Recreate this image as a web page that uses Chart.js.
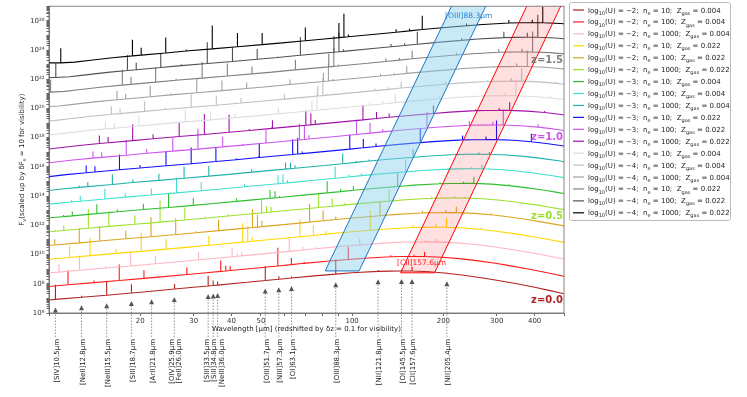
<!DOCTYPE html>
<html>
<head>
<meta charset="utf-8">
<script src="https://cdn.jsdelivr.net/npm/chart.js@4.4.0/dist/chart.umd.min.js"></script>
<style>
html, body { margin: 0; padding: 0; background: #fff; }
canvas { display: block; }
</style>
</head>
<body>
<canvas id="sed-chart" width="747" height="397"></canvas>
<script>
// model parameters, one entry per curve (bottom to top)
const modelLogU = [-2, -2, -2, -2, -2, -2, -3, -3, -3, -3, -3, -3, -4, -4, -4, -4, -4, -4];
const modelNe = [10, 100, 1000, 10, 100, 1000, 10, 100, 1000, 10, 100, 1000, 10, 100, 1000, 10, 100, 1000];
const modelZgas = [0.004, 0.004, 0.004, 0.022, 0.022, 0.022, 0.004, 0.004, 0.004, 0.022, 0.022, 0.022,
                   0.004, 0.004, 0.004, 0.022, 0.022, 0.022];
const modelColors = ['#b22222', '#ff1a1a', '#ffb6c1', '#ffd700', '#daa520', '#9be22d',
                     '#2dbf2d', '#40e0d0', '#20b2aa', '#1010ff', '#cc55ee', '#a010a8',
                     '#dddddd', '#c0c0c0', '#a0a0a0', '#808080', '#505050', '#000000'];
const dz = 0.1;
const dF = 10;

// rest-frame continuum (log10 F, unscaled)
const contRest = [3.5, 4.05, 4.5, 5, 6, 6.98, 7.46, 8.99, 10.5, 12.8, 15.5, 18.7, 21.8, 25.9, 26.0, 30,
                  33.5, 34.8, 36.0, 45, 51.7, 57.3, 63.1, 75, 88.3, 100, 121.8, 145.5, 157.6, 180,
                  205.4, 230, 270, 300, 350, 400, 450, 500];
const contLogF = [6.12, 6.12, 6.17, 6.28, 6.47, 6.60, 6.65, 6.80, 6.93, 7.08, 7.22, 7.37, 7.49, 7.64, 7.64, 7.76,
                  7.85, 7.88, 7.91, 8.10, 8.22, 8.31, 8.40, 8.54, 8.66, 8.75, 8.85, 8.88, 8.87, 8.82,
                  8.72, 8.60, 8.40, 8.24, 8.00, 7.76, 7.53, 7.32];

// emission lines (rest wavelength, um) and their peak height above continuum in dex, per model
const lineRest = [4.05, 6.98, 7.46, 8.99, 10.5, 12.8, 15.5, 18.7, 21.8, 25.9, 26.0, 33.5, 34.8, 36.0,
                  51.7, 57.3, 63.1, 88.3, 121.8, 145.5, 157.6, 205.4];
const lineHeight = [
  [0.3, 0.1, 0.35, 0.9, 1.0, 0.1, 0.9, 0.6, 0.05, 0.35, 0.05, 0.7, 0.35, 0.25, 1.0, 0.2, 0.1, 1.0, 0.1, 0.1, 0.3, 0.05],
  [0.3, 0.1, 0.35, 0.9, 1.0, 0.15, 1.1, 0.55, 0.05, 0.5, 0.05, 0.75, 0.35, 0.3, 1.25, 0.45, 0.1, 0.85, 0.1, 0.1, 0.3, 0.05],
  [0.3, 0.1, 0.35, 0.55, 1.0, 0.15, 1.0, 0.55, 0.05, 0.55, 0.05, 0.6, 0.2, 0.25, 1.0, 0.2, 0.1, 0.45, 0.05, 0.1, 0.2, 0.05],
  [0.3, 0.1, 0.3, 0.8, 1.2, 0.3, 1.25, 0.7, 0.1, 0.65, 0.05, 1.3, 1.1, 0.3, 1.2, 0.7, 0.2, 1.35, 0.15, 0.2, 0.65, 0.15],
  [0.3, 0.1, 0.4, 1.0, 1.0, 0.55, 1.35, 1.1, 0.1, 0.75, 0.05, 1.25, 0.85, 0.4, 1.25, 0.7, 0.2, 0.95, 0.15, 0.15, 0.4, 0.1],
  [0.3, 0.1, 0.35, 1.3, 1.0, 0.6, 1.5, 0.85, 0.1, 0.1, 0.05, 0.9, 0.45, 0.35, 1.0, 0.55, 0.15, 0.8, 0.1, 0.1, 0.1, 0.05],
  [0.3, 0.1, 0.3, 0.65, 0.15, 0.4, 0.95, 0.5, 0.05, 0.2, 0.05, 0.55, 0.45, 0.1, 0.8, 0.2, 0.3, 0.9, 0.1, 0.1, 0.45, 0.1],
  [0.3, 0.12, 0.35, 0.7, 0.25, 0.45, 1.0, 0.6, 0.05, 0.2, 0.05, 0.6, 0.6, 0.2, 0.8, 0.15, 0.15, 0.85, 0.1, 0.1, 0.3, 0.05],
  [0.3, 0.12, 0.3, 0.7, 0.2, 0.45, 0.8, 0.7, 0.05, 0.2, 0.05, 0.45, 0.4, 0.2, 0.7, 0.1, 0.1, 0.55, 0.05, 0.1, 0.15, 0.05],
  [0.4, 0.5, 0.4, 1.05, 0.2, 1.0, 1.1, 0.95, 0.1, 0.1, 0.95, 1.05, 1.1, 0.15, 1.0, 0.6, 0.2, 1.0, 0.3, 0.2, 1.3, 0.55],
  [0.4, 0.45, 0.35, 1.05, 0.3, 0.9, 1.4, 0.7, 0.1, 0.1, 0.9, 1.1, 1.0, 0.25, 1.0, 0.7, 0.2, 1.1, 0.3, 0.2, 1.0, 0.2],
  [0.4, 0.55, 0.4, 1.1, 0.3, 1.0, 1.4, 1.2, 0.1, 0.1, 0.55, 1.0, 0.8, 0.3, 1.0, 0.45, 0.25, 0.55, 0.1, 0.15, 0.55, 0.1],
  [0.5, 0.55, 0.35, 0.7, 0.1, 0.85, 0.6, 0.3, 0.05, 0.05, 0.4, 0.7, 1.25, 0.1, 0.15, 0.2, 0.6, 0.2, 0.1, 0.2, 1.0, 0.15],
  [0.5, 0.55, 0.35, 0.7, 0.1, 0.9, 0.65, 0.35, 0.05, 0.05, 0.35, 0.7, 1.2, 0.1, 0.15, 0.15, 0.45, 0.15, 0.1, 0.2, 0.9, 0.1],
  [0.5, 0.6, 0.35, 0.75, 0.1, 0.95, 0.7, 0.4, 0.05, 0.05, 0.35, 0.6, 1.25, 0.1, 0.15, 0.1, 0.5, 0.1, 0.05, 0.2, 1.1, 0.05],
  [0.85, 1.05, 0.5, 1.0, 0.1, 1.1, 0.85, 0.5, 0.05, 0.05, 0.7, 0.9, 1.3, 0.1, 0.2, 0.15, 0.55, 0.15, 0.2, 0.2, 1.4, 0.2],
  [0.95, 1.05, 0.5, 1.0, 0.1, 1.45, 0.95, 0.7, 0.05, 0.05, 1.25, 1.1, 1.3, 0.15, 0.2, 0.15, 0.85, 0.15, 0.4, 0.3, 1.55, 0.2],
  [1.0, 1.1, 0.5, 1.05, 0.1, 1.6, 0.95, 0.8, 0.05, 0.05, 0.9, 1.0, 1.6, 0.15, 0.2, 0.15, 0.95, 0.15, 0.2, 0.2, 1.1, 0.1]
];

// marked lines below the axis
const arrowRest = [10.5, 12.8, 15.5, 18.7, 21.8, 25.9, 33.5, 34.8, 36.0, 51.7, 57.3, 63.1, 88.3, 121.8, 145.5, 157.6, 205.4];
const arrowLabelGroups = [
  ['[SIV]10.5μm'], ['[NeII]12.8μm'], ['[NeIII]15.5μm'], ['[SIII]18.7μm'], ['[ArII]21.8μm'],
  ['[OIV]25.9μm', '[FeII]26.0μm'], ['[SIII]33.5μm', '[SiII]34.8μm', '[NeIII]36.0μm'],
  ['[OIII]51.7μm'], ['[NIII]57.3μm'], ['[OI]63.1μm'], ['[OIII]88.3μm'], ['[NII]121.8μm'],
  ['[OI]145.5μm'], ['[CII]157.6μm'], ['[NII]205.4μm']
];
const arrowLabelAt = [[10.5], [12.8], [15.5], [18.7], [21.8], [25.9], [33.5, 34.8, 36.0], [51.7], [57.3], [63.1],
                      [88.3], [121.8], [145.5], [157.6], [205.4]];

// highlighted bands following [OIII]88.3 and [CII]157.6 with redshift
const oiiiBandLambda = [81.5, 105.4, 291, 224.5];
const oiiiBandLogF = [8.88, 8.88, 28, 28];
const ciiBandLambda = [144.5, 187, 514, 397];
const ciiBandLogF = [8.75, 8.75, 28, 28];

const zLabelModels = [0, 5, 10, 15];

const xTickValues = [10, 20, 30, 40, 50, 60, 70, 80, 90, 100, 200, 300, 400, 500];
const xTickLabels = [20, 30, 40, 50, 100, 200, 300, 400];

Chart.defaults.font.family = '"DejaVu Sans", sans-serif';
Chart.defaults.color = '#333';

const FONT = '"DejaVu Sans", sans-serif';
const SUP = '⁰¹²³⁴⁵⁶⁷⁸⁹';
function sup(n) {
    return String(n).split('').map(d => SUP[+d]).join('');
}

const datasets = [];
modelLogU.forEach((u, k) => {
    const z = dz * k;
    const shift = k * Math.log10(dF);
    const pts = [];
    contRest.forEach((lr, i) => {
        const x = lr * (1 + z);
        const c = contLogF[i] + shift;
        pts.push({ x: x, y: Math.pow(10, c) });
        const j = lineRest.indexOf(lr);
        if (j >= 0) {
            pts.push({ x: x, y: Math.pow(10, c + lineHeight[k][j]) });
            pts.push({ x: x, y: Math.pow(10, c) });
        }
    });
    datasets.push({
        data: pts,
        borderColor: modelColors[k],
        borderWidth: 1.1,
        borderJoinStyle: 'bevel',
        pointRadius: 0,
        showLine: true,
        fill: false,
        tension: 0,
        order: 100 - k
    });
});

function bandPoints(lam, lf) {
    const p = lam.map((l, i) => ({ x: l, y: Math.pow(10, lf[i]) }));
    p.push(p[0]);
    return p;
}
datasets.push({
    data: bandPoints(oiiiBandLambda, oiiiBandLogF),
    borderColor: '#1f77c4', borderWidth: 1, backgroundColor: 'rgba(135,206,235,0.45)',
    fill: 'shape', pointRadius: 0, showLine: true, tension: 0, order: 1
});
datasets.push({
    data: bandPoints(ciiBandLambda, ciiBandLogF),
    borderColor: '#ff0000', borderWidth: 1, backgroundColor: 'rgba(255,0,0,0.12)',
    fill: 'shape', pointRadius: 0, showLine: true, tension: 0, order: 0
});

// continuum in log at an arbitrary rest wavelength (only used to place text)
function contLogAt(lr) {
    for (let i = 1; i < contRest.length; i++) {
        if (lr <= contRest[i]) {
            const t = (Math.log10(lr) - Math.log10(contRest[i - 1])) / (Math.log10(contRest[i]) - Math.log10(contRest[i - 1]));
            return contLogF[i - 1] + t * (contLogF[i] - contLogF[i - 1]);
        }
    }
    return contLogF[contLogF.length - 1];
}

function drawRich(ctx, parts, x, y, size) {
    let cx = x;
    parts.forEach(([t, kind]) => {
        const s = kind ? size * 0.72 : size;
        ctx.font = s + 'px ' + FONT;
        const dy = kind === 'sub' ? size * 0.3 : 0;
        ctx.fillText(t, cx, y + dy);
        cx += ctx.measureText(t).width;
    });
    return cx - x;
}

function richWidth(ctx, parts, size) {
    let w = 0;
    parts.forEach(([t, kind]) => {
        ctx.font = (kind ? size * 0.72 : size) + 'px ' + FONT;
        w += ctx.measureText(t).width;
    });
    return w;
}

const decorations = {
    id: 'decorations',
    afterDatasetsDraw(chart) {
        const { ctx, chartArea: a, scales: { x: xs, y: ys } } = chart;
        ctx.save();
        // frame
        ctx.strokeStyle = '#666';
        ctx.lineWidth = 0.8;
        ctx.strokeRect(a.left, a.top, a.right - a.left, a.bottom - a.top);

        // band labels
        ctx.beginPath();
        ctx.rect(a.left, a.top, a.right - a.left, a.bottom - a.top);
        ctx.clip();
        ctx.font = '7.5px ' + FONT;
        ctx.textAlign = 'center';
        ctx.textBaseline = 'middle';
        const ox = (xs.getPixelForValue(oiiiBandLambda[2]) + xs.getPixelForValue(oiiiBandLambda[3])) / 2;
        const topFrac = (Math.log10(ys.max) - oiiiBandLogF[0]) / (oiiiBandLogF[2] - oiiiBandLogF[0]);
        const oxl = xs.getPixelForValue(oiiiBandLambda[0]) + topFrac * (xs.getPixelForValue(oiiiBandLambda[3]) - xs.getPixelForValue(oiiiBandLambda[0]));
        const oxr = xs.getPixelForValue(oiiiBandLambda[1]) + topFrac * (xs.getPixelForValue(oiiiBandLambda[2]) - xs.getPixelForValue(oiiiBandLambda[1]));
        ctx.fillStyle = '#2a8ad0';
        ctx.fillText('[OIII]88.3μm', (oxl + oxr) / 2, a.top + 10);
        const cx = (xs.getPixelForValue(ciiBandLambda[0]) + xs.getPixelForValue(ciiBandLambda[1])) / 2;
        ctx.fillStyle = '#ff2020';
        ctx.fillText('[CII]157.6μm', cx + 4, ys.getPixelForValue(Math.pow(10, ciiBandLogF[0])) - 10);
        ctx.restore();

        ctx.save();
        // redshift labels at the right end of some curves
        ctx.font = 'bold 10px ' + FONT;
        ctx.textAlign = 'right';
        ctx.textBaseline = 'middle';
        zLabelModels.forEach(k => {
            const z = dz * k;
            const lr = xs.max / (1 + z);
            const yy = ys.getPixelForValue(Math.pow(10, contLogAt(lr) + k * Math.log10(dF)));
            ctx.fillStyle = modelColors[k];
            ctx.fillText('z=' + z.toFixed(1), a.right - 1, yy + 7);
        });
        ctx.restore();
    },
    afterDraw(chart) {
        const { ctx, chartArea: a, scales: { x: xs, y: ys } } = chart;
        ctx.save();
        // arrows pointing at the z=0 lines
        const labelTop = 337;
        arrowRest.forEach(lr => {
            const px = xs.getPixelForValue(lr);
            const tip = ys.getPixelForValue(Math.pow(10, contLogF[contRest.indexOf(lr)])) + 8;
            ctx.strokeStyle = '#777';
            ctx.lineWidth = 0.8;
            ctx.setLineDash([1.5, 1.5]);
            ctx.beginPath();
            ctx.moveTo(px, labelTop);
            ctx.lineTo(px, tip + 4);
            ctx.stroke();
            ctx.setLineDash([]);
            ctx.fillStyle = '#555';
            ctx.beginPath();
            ctx.moveTo(px, tip);
            ctx.lineTo(px - 2.5, tip + 5);
            ctx.lineTo(px + 2.5, tip + 5);
            ctx.closePath();
            ctx.fill();
        });
        // rotated line names
        ctx.font = '7px ' + FONT;
        ctx.fillStyle = '#222';
        ctx.textAlign = 'right';
        ctx.textBaseline = 'middle';
        arrowLabelGroups.forEach((g, i) => {
            const xsAt = arrowLabelAt[i].map(v => xs.getPixelForValue(v));
            const cxp = xsAt.reduce((s, v) => s + v, 0) / xsAt.length + 1.5;
            g.forEach((t, j) => {
                ctx.save();
                ctx.translate(cxp + (j - (g.length - 1) / 2) * 7.5, labelTop + 2);
                ctx.rotate(-Math.PI / 2);
                ctx.fillText(t, 0, 0);
                ctx.restore();
            });
        });

        // axis titles
        ctx.fillStyle = '#222';
        ctx.textAlign = 'left';
        ctx.textBaseline = 'alphabetic';
        const xt = [['Wavelength [μm] (redshifted by δz = 0.1 for visibility)', '']];
        const xw = richWidth(ctx, xt, 7);
        drawRich(ctx, xt, (a.left + a.right) / 2 - xw / 2, 331, 7);

        const yt = [['F', ''], ['ν', 'sub'], ['(scaled up by δF', ''], ['ν', 'sub'], [' = 10 for visibility)', '']];
        const yw = richWidth(ctx, yt, 7);
        ctx.save();
        ctx.translate(24, (a.top + a.bottom) / 2);
        ctx.rotate(-Math.PI / 2);
        drawRich(ctx, yt, -yw / 2, 0, 7);
        ctx.restore();

        // legend
        const lx = 569.5, ly = 2.5, lw = 161, lh = 218;
        ctx.fillStyle = '#fff';
        ctx.strokeStyle = '#bbb';
        ctx.lineWidth = 1;
        ctx.beginPath();
        ctx.roundRect(lx, ly, lw, lh, 2);
        ctx.fill();
        ctx.stroke();
        modelLogU.forEach((u, k) => {
            const ry = 10 + k * 11.93;
            ctx.strokeStyle = modelColors[k];
            ctx.lineWidth = 1.2;
            ctx.beginPath();
            ctx.moveTo(573, ry);
            ctx.lineTo(584, ry);
            ctx.stroke();
            ctx.fillStyle = '#222';
            drawRich(ctx, [
                ['log', ''], ['10', 'sub'], ['(U) = −' + Math.abs(u) + ';  n', ''], ['e', 'sub'],
                [' = ' + modelNe[k] + ';  Z', ''], ['gas', 'sub'], [' = ' + modelZgas[k].toFixed(3), '']
            ], 588, ry + 2.5, 7);
        });
        ctx.restore();
    }
};

const chart = new Chart(document.getElementById('sed-chart'), {
    type: 'scatter',
    data: { datasets: datasets },
    options: {
        responsive: false,
        animation: false,
        devicePixelRatio: 1,
        layout: { padding: { left: 0, right: 183, top: 3, bottom: 70 } },
        plugins: { legend: { display: false }, tooltip: { enabled: false } },
        scales: {
            x: {
                type: 'logarithmic',
                min: 10,
                max: 500,
                afterBuildTicks: s => { s.ticks = xTickValues.map(v => ({ value: v })); },
                afterFit: s => { s.height = 14; },
                grid: { drawOnChartArea: false, tickLength: 3, color: '#666' },
                border: { color: '#666', width: 0.8 },
                ticks: {
                    autoSkip: false, maxRotation: 0, padding: 1,
                    font: { size: 7 }, color: '#333',
                    callback: v => xTickLabels.includes(v) ? String(v) : ''
                }
            },
            y: {
                type: 'logarithmic',
                min: 1e6,
                max: 1e27,
                afterBuildTicks: s => {
                    const t = [];
                    for (let n = 6; n < 27; n++) {
                        for (let m = 1; m < 10; m++) t.push({ value: m * Math.pow(10, n) });
                    }
                    t.push({ value: 1e27 });
                    s.ticks = t;
                },
                afterFit: s => { s.width = 49; },
                grid: { drawOnChartArea: false, tickLength: 2.5, color: '#666' },
                border: { color: '#666', width: 0.8 },
                ticks: {
                    autoSkip: false, padding: 2,
                    font: { size: 7 }, color: '#333',
                    callback: v => {
                        const e = Math.round(Math.log10(v));
                        if (Math.abs(Math.log10(v) - e) < 1e-6 && e % 2 === 0) return '10' + sup(e);
                        return '';
                    }
                }
            }
        }
    },
    plugins: [decorations]
});
</script>
</body>
</html>
